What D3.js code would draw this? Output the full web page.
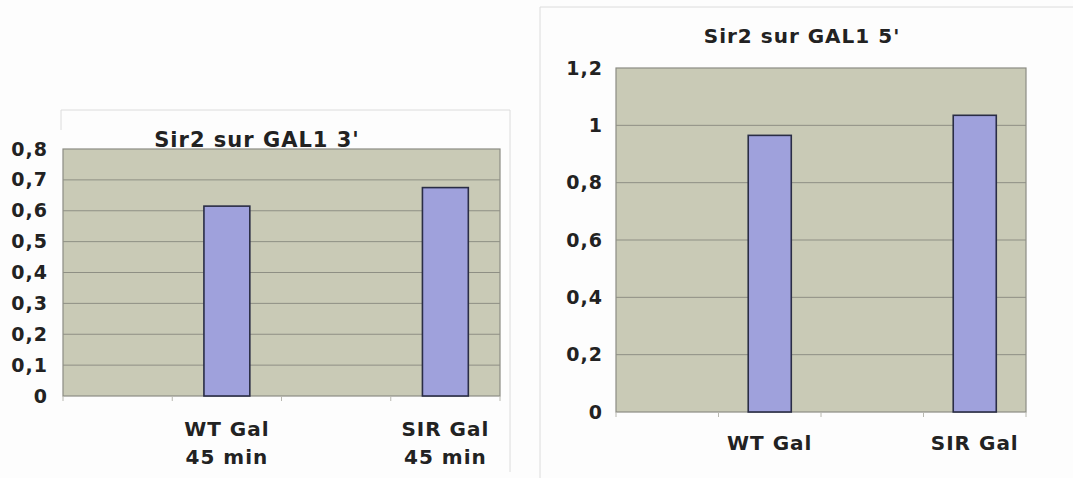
<!DOCTYPE html>
<html>
<head>
<meta charset="utf-8">
<script src="https://cdn.jsdelivr.net/npm/d3@7"></script>
<style>
  body { margin: 0; background: #fdfdfd; }
  text { font-family: "DejaVu Sans", Verdana, sans-serif; font-weight: bold; fill: #222; }
</style>
</head>
<body>
<div id="canvas"></div>
<script>
// Page size.
const WIDTH = 1073;
const HEIGHT = 478;

// Data: two small charts, each with 4 category slots (slots 1 and 3 are empty).
const slots = [0, 1, 2, 3];

const title3 = "Sir2 sur GAL1 3'";
const labels3 = [[], ["WT Gal", "45 min"], [], ["SIR Gal", "45 min"]];
const values3 = [null, 0.615, null, 0.675];
const ticks3 = [0, 0.1, 0.2, 0.3, 0.4, 0.5, 0.6, 0.7, 0.8];

const title5 = "Sir2 sur GAL1 5'";
const labels5 = [[], ["WT Gal"], [], ["SIR Gal"]];
const values5 = [null, 0.965, null, 1.035];
const ticks5 = [0, 0.2, 0.4, 0.6, 0.8, 1, 1.2];

const svg = d3.select("#canvas")
    .append("svg")
    .attr("width", WIDTH)
    .attr("height", HEIGHT);

const fmt = d => d3.format("~g")(d).replace(".", ",");

function drawChart(opt) {
    const g = svg.append("g");

    // Light outer frame of the chart object.
    g.append("path")
        .attr("d", opt.frame)
        .attr("fill", "none")
        .attr("stroke", "#dcdcdc")
        .attr("stroke-width", 1);

    const x = d3.scaleBand()
        .domain(slots)
        .range([opt.left, opt.right]);

    const y = d3.scaleLinear()
        .domain([0, d3.max(opt.ticks)])
        .range([opt.bottom, opt.top]);

    // Plot area background.
    g.append("rect")
        .attr("x", opt.left)
        .attr("y", opt.top)
        .attr("width", opt.right - opt.left)
        .attr("height", opt.bottom - opt.top)
        .attr("fill", "#c9cab6")
        .attr("stroke", "#8c8c84")
        .attr("stroke-width", 1.2);

    // Grid lines.
    g.selectAll(".grid")
        .data(opt.ticks.slice(1, -1))
        .enter()
        .append("line")
        .attr("x1", opt.left)
        .attr("x2", opt.right)
        .attr("y1", d => y(d))
        .attr("y2", d => y(d))
        .attr("stroke", "#8e8f84")
        .attr("stroke-width", 1);

    // Bars.
    const bw = x.bandwidth() * 0.42;
    g.selectAll(".bar")
        .data(slots.filter(i => opt.values[i] != null))
        .enter()
        .append("rect")
        .attr("x", i => x(i) + (x.bandwidth() - bw) / 2)
        .attr("y", i => y(opt.values[i]))
        .attr("width", bw)
        .attr("height", i => opt.bottom - y(opt.values[i]))
        .attr("fill", "#9fa1dc")
        .attr("stroke", "#2a2d45")
        .attr("stroke-width", 1.6);

    // Y axis.
    const yAxis = d3.axisLeft(y)
        .tickValues(opt.ticks)
        .tickSize(0)
        .tickPadding(opt.tickPad)
        .tickFormat(fmt);

    g.append("g")
        .attr("transform", `translate(${opt.left}, 0)`)
        .call(yAxis)
        .call(s => s.select(".domain").remove())
        .selectAll("text")
        .style("font-size", "19px")
        .style("letter-spacing", "1px")
        .attr("fill", "#222");

    // X axis: small tick marks at slot boundaries.
    g.selectAll(".xtick")
        .data(slots.concat([slots.length]))
        .enter()
        .append("line")
        .attr("x1", i => i < slots.length ? x(i) : opt.right)
        .attr("x2", i => i < slots.length ? x(i) : opt.right)
        .attr("y1", opt.bottom)
        .attr("y2", opt.bottom + 5)
        .attr("stroke", "#b8b8b0");

    // Category labels.
    const lab = g.selectAll(".xlab")
        .data(slots)
        .enter()
        .append("text")
        .attr("text-anchor", "middle")
        .style("font-size", "20px")
        .style("letter-spacing", "1px");

    lab.selectAll("tspan")
        .data(i => opt.labels[i].map(t => ({ t, c: x(i) + x.bandwidth() / 2 })))
        .enter()
        .append("tspan")
        .attr("x", d => d.c)
        .attr("y", (d, k) => opt.labelY + k * 28)
        .text(d => d.t);

    // Title.
    g.append("text")
        .attr("x", opt.titleX)
        .attr("y", opt.titleY)
        .attr("text-anchor", "middle")
        .style("font-size", opt.titleSize + "px")
        .style("letter-spacing", "1px")
        .text(opt.title);
}

drawChart({
    title: title3, labels: labels3, values: values3, ticks: ticks3,
    left: 63, right: 500, top: 149, bottom: 396,
    tickPad: 15, labelY: 436, titleX: 257, titleY: 147, titleSize: 21,
    frame: "M61,130 L61,110 L510,110 L510,472"
});

drawChart({
    title: title5, labels: labels5, values: values5, ticks: ticks5,
    left: 616, right: 1026, top: 68, bottom: 412,
    tickPad: 13, labelY: 450, titleX: 802, titleY: 43, titleSize: 20,
    frame: "M540,478 L540,7 L1073,7"
});
</script>
</body>
</html>
